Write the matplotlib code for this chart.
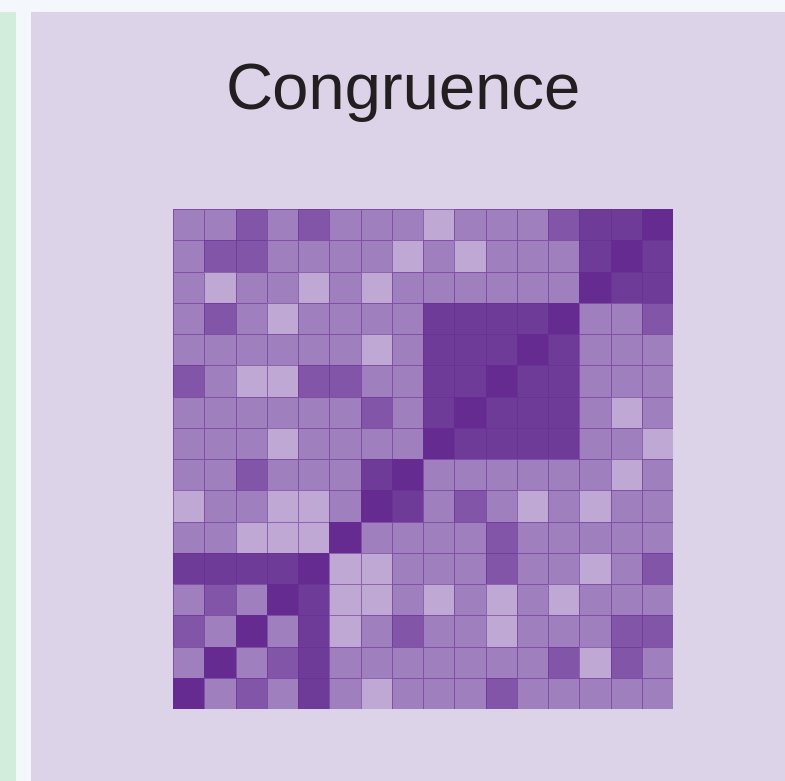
import numpy as np
import matplotlib
matplotlib.use('Agg')
import matplotlib.pyplot as plt
from matplotlib.colors import ListedColormap, BoundaryNorm
from matplotlib.patches import Rectangle

title = 'Congruence'

# 1 = light, 2 = medium, 3 = medium dark, 4 = dark, 5 = darkest
levels = [1, 2, 3, 4, 5]
level_colors = ['#c0a8d5', '#a07fbe', '#8255a8', '#6e3c98', '#652b91']

grid = [
    [2, 2, 3, 2, 3, 2, 2, 2, 1, 2, 2, 2, 3, 4, 4, 5],
    [2, 3, 3, 2, 2, 2, 2, 1, 2, 1, 2, 2, 2, 4, 5, 4],
    [2, 1, 2, 2, 1, 2, 1, 2, 2, 2, 2, 2, 2, 5, 4, 4],
    [2, 3, 2, 1, 2, 2, 2, 2, 4, 4, 4, 4, 5, 2, 2, 3],
    [2, 2, 2, 2, 2, 2, 1, 2, 4, 4, 4, 5, 4, 2, 2, 2],
    [3, 2, 1, 1, 3, 3, 2, 2, 4, 4, 5, 4, 4, 2, 2, 2],
    [2, 2, 2, 2, 2, 2, 3, 2, 4, 5, 4, 4, 4, 2, 1, 2],
    [2, 2, 2, 1, 2, 2, 2, 2, 5, 4, 4, 4, 4, 2, 2, 1],
    [2, 2, 3, 2, 2, 2, 4, 5, 2, 2, 2, 2, 2, 2, 1, 2],
    [1, 2, 2, 1, 1, 2, 5, 4, 2, 3, 2, 1, 2, 1, 2, 2],
    [2, 2, 1, 1, 1, 5, 2, 2, 2, 2, 3, 2, 2, 2, 2, 2],
    [4, 4, 4, 4, 5, 1, 1, 2, 2, 2, 3, 2, 2, 1, 2, 3],
    [2, 3, 2, 5, 4, 1, 1, 2, 1, 2, 1, 2, 1, 2, 2, 2],
    [3, 2, 5, 2, 4, 1, 2, 3, 2, 2, 1, 2, 2, 2, 3, 3],
    [2, 5, 2, 3, 4, 2, 2, 2, 2, 2, 2, 2, 3, 1, 3, 2],
    [5, 2, 3, 2, 4, 2, 1, 2, 2, 2, 3, 2, 2, 2, 2, 2],
]

W, H = 785, 781
fig = plt.figure(figsize=(W / 100, H / 100), dpi=100, facecolor='#f4f8fc')

# side strip and panel background
fig.patches.append(Rectangle((0, 0), 16 / W, 769 / H, transform=fig.transFigure,
                             facecolor='#d2eddc', edgecolor='none', zorder=-2))
fig.patches.append(Rectangle((31 / W, 0), 1 - 31 / W, 769 / H, transform=fig.transFigure,
                             facecolor='#ddd3e9', edgecolor='none', zorder=-2))

fig.text(403 / W, 1 - 92 / H, title, ha='center', va='center', fontsize=47,
         color='#231f20', family=['Liberation Sans', 'DejaVu Sans'])

ax = fig.add_axes([173 / W, 1 - 709 / H, 500 / W, 500 / H], zorder=1)
data = np.array(grid)
cmap = ListedColormap(level_colors)
norm = BoundaryNorm(np.arange(0.5, len(levels) + 1), cmap.N)
ax.pcolormesh(data, cmap=cmap, norm=norm, edgecolors=(0.40, 0.17, 0.57, 0.55),
              linewidth=0.6)
ax.set_xlim(0, data.shape[1])
ax.set_ylim(data.shape[0], 0)
ax.axis('off')

fig.savefig('out.png', dpi=100, facecolor=fig.get_facecolor())
